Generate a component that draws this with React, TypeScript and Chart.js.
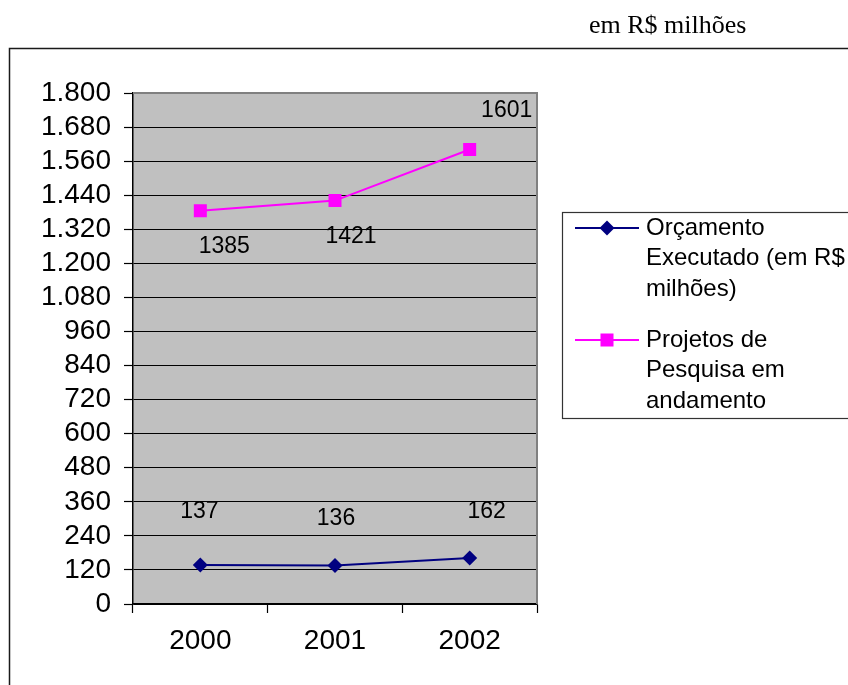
import React, { useEffect, useRef } from "react";
import { Chart, registerables } from "chart.js";

Chart.register(...registerables);

// Series data
const years = ["2000", "2001", "2002"];
const orcamentoExecutado = [137, 136, 162];
const projetosPesquisa = [1385, 1421, 1601];

// Value axis range
const yMin = 0;
const yMax = 1800;
const yStep = 120;

// Text
const unitNote = "em R$ milhões";
const legendTexts = [
  ["Orçamento", "Executado (em R$", "milhões)"],
  ["Projetos de", "Pesquisa em", "andamento"],
];

// Value-label placement relative to each point (px)
const orcamentoLabelOffsets = [
  [-1, -53],
  [1, -47],
  [17, -46],
];
const projetosLabelOffsets = [
  [24, 36],
  [16, 36],
  [37, -39],
];

const NAVY = "#000080";
const MAGENTA = "#FF00FF";
const PLOT_BG = "#C0C0C0";
const SANS = '"Liberation Sans", Arial, Helvetica, sans-serif';
const SERIF = '"Liberation Serif", "Times New Roman", serif';

const W = 848;
const H = 685;
const AREA = { left: 133, right: 537, top: 93, bottom: 604 };

const formatThousands = (v: number) =>
  String(v).replace(/\B(?=(\d{3})+(?!\d))/g, ".");

function drawMarker(ctx: CanvasRenderingContext2D, style: string, x: number, y: number, r: number, color: string) {
  ctx.save();
  ctx.fillStyle = color;
  ctx.beginPath();
  if (style === "rectRot") {
    ctx.moveTo(x, y - r);
    ctx.lineTo(x + r, y);
    ctx.lineTo(x, y + r);
    ctx.lineTo(x - r, y);
    ctx.closePath();
  } else {
    const s = r * Math.SQRT1_2;
    ctx.rect(x - s, y - s, 2 * s, 2 * s);
  }
  ctx.fill();
  ctx.restore();
}

const decorPlugin = {
  id: "decor",
  beforeDraw(chart: any) {
    const { ctx, chartArea } = chart;
    ctx.save();
    ctx.fillStyle = "#ffffff";
    ctx.fillRect(0, 0, W, H);
    // outer frame (continues past the right and bottom edges)
    ctx.strokeStyle = "#1a1a1a";
    ctx.lineWidth = 1.5;
    ctx.strokeRect(9.5, 48.5, W + 20, H + 20);
    // unit note
    ctx.fillStyle = "#000";
    ctx.font = `26px ${SERIF}`;
    ctx.textAlign = "left";
    ctx.textBaseline = "alphabetic";
    ctx.fillText(unitNote, 589, 33);
    // plot background
    ctx.fillStyle = PLOT_BG;
    ctx.fillRect(chartArea.left, chartArea.top, chartArea.right - chartArea.left, chartArea.bottom - chartArea.top);
    ctx.restore();
  },
  beforeDatasetsDraw(chart: any) {
    const { ctx, chartArea } = chart;
    ctx.save();
    ctx.strokeStyle = "#808080";
    ctx.lineWidth = 2;
    ctx.beginPath();
    ctx.moveTo(chartArea.left, chartArea.top);
    ctx.lineTo(chartArea.right, chartArea.top);
    ctx.lineTo(chartArea.right, chartArea.bottom);
    ctx.stroke();
    ctx.restore();
  },
  afterDatasetsDraw(chart: any) {
    const { ctx } = chart;
    const offsets = [orcamentoLabelOffsets, projetosLabelOffsets];
    ctx.save();
    ctx.fillStyle = "#000";
    ctx.font = `23px ${SANS}`;
    ctx.textAlign = "center";
    ctx.textBaseline = "middle";
    chart.data.datasets.forEach((ds: any, di: number) => {
      const meta = chart.getDatasetMeta(di);
      meta.data.forEach((pt: any, i: number) => {
        const [dx, dy] = offsets[di][i];
        ctx.fillText(String(ds.data[i]), pt.x + dx, pt.y + dy);
      });
    });
    ctx.restore();
  },
  afterDraw(chart: any) {
    const { ctx } = chart;
    ctx.save();
    // legend frame
    ctx.strokeStyle = "#333";
    ctx.lineWidth = 1.2;
    ctx.strokeRect(562.5, 212.5, 320, 206);
    const rows = [228, 340];
    chart.data.datasets.forEach((ds: any, di: number) => {
      const y = rows[di];
      ctx.strokeStyle = ds.borderColor;
      ctx.lineWidth = 2;
      ctx.beginPath();
      ctx.moveTo(575, y);
      ctx.lineTo(639, y);
      ctx.stroke();
      drawMarker(ctx, ds.pointStyle, 607, y, ds.pointRadius, ds.backgroundColor);
      ctx.fillStyle = "#000";
      ctx.font = `24px ${SANS}`;
      ctx.textAlign = "left";
      ctx.textBaseline = "middle";
      legendTexts[di].forEach((line, li) => {
        ctx.fillText(line, 646, y + li * 30.5);
      });
    });
    ctx.restore();
  },
};

export default function App() {
  const canvasRef = useRef<HTMLCanvasElement | null>(null);

  useEffect(() => {
    if (!canvasRef.current) return;
    const chart = new Chart(canvasRef.current, {
      type: "line",
      data: {
        labels: years,
        datasets: [
          {
            label: legendTexts[0].join(" "),
            data: orcamentoExecutado,
            borderColor: NAVY,
            backgroundColor: NAVY,
            borderWidth: 2,
            pointStyle: "rectRot",
            pointRadius: 7.5,
            pointBorderWidth: 0,
            tension: 0,
          },
          {
            label: legendTexts[1].join(" "),
            data: projetosPesquisa,
            borderColor: MAGENTA,
            backgroundColor: MAGENTA,
            borderWidth: 2,
            pointStyle: "rect",
            pointRadius: 9.2,
            pointBorderWidth: 0,
            tension: 0,
          },
        ],
      },
      options: {
        animation: false,
        responsive: false,
        devicePixelRatio: 1,
        events: [],
        layout: {
          padding: { left: 0, top: AREA.top, right: W - AREA.right, bottom: 0 },
        },
        plugins: {
          legend: { display: false },
          tooltip: { enabled: false },
          title: { display: false },
        },
        scales: {
          x: {
            offset: true,
            afterFit: (scale: any) => {
              scale.height = H - AREA.bottom;
            },
            grid: {
              offset: true,
              drawOnChartArea: false,
              drawTicks: true,
              tickLength: 9,
              tickColor: "#000",
              tickWidth: 1.2,
            },
            border: { display: true, color: "#000", width: 1.5 },
            ticks: {
              color: "#000",
              font: { family: SANS, size: 28 },
              padding: 11,
              maxRotation: 0,
              autoSkip: false,
            },
          },
          y: {
            min: yMin,
            max: yMax,
            afterFit: (scale: any) => {
              scale.width = AREA.left;
            },
            grid: {
              color: (c: any) => (c.tick && c.tick.value === yMax ? "rgba(0,0,0,0)" : "#000"),
              lineWidth: 1,
              drawTicks: true,
              tickLength: 9,
              tickColor: "#000",
              tickWidth: 1.2,
            },
            border: { display: true, color: "#000", width: 1.5 },
            ticks: {
              stepSize: yStep,
              autoSkip: false,
              color: "#000",
              font: { family: SANS, size: 28 },
              padding: 13,
              callback: (v: any) => formatThousands(Number(v)),
            },
          },
        },
      },
      plugins: [decorPlugin],
    });
    return () => chart.destroy();
  }, []);

  return (
    <div style={{ position: "fixed", left: 0, top: 0, width: W, height: H, background: "#fff" }}>
      <canvas ref={canvasRef} width={W} height={H} style={{ display: "block", width: W, height: H }} />
    </div>
  );
}
